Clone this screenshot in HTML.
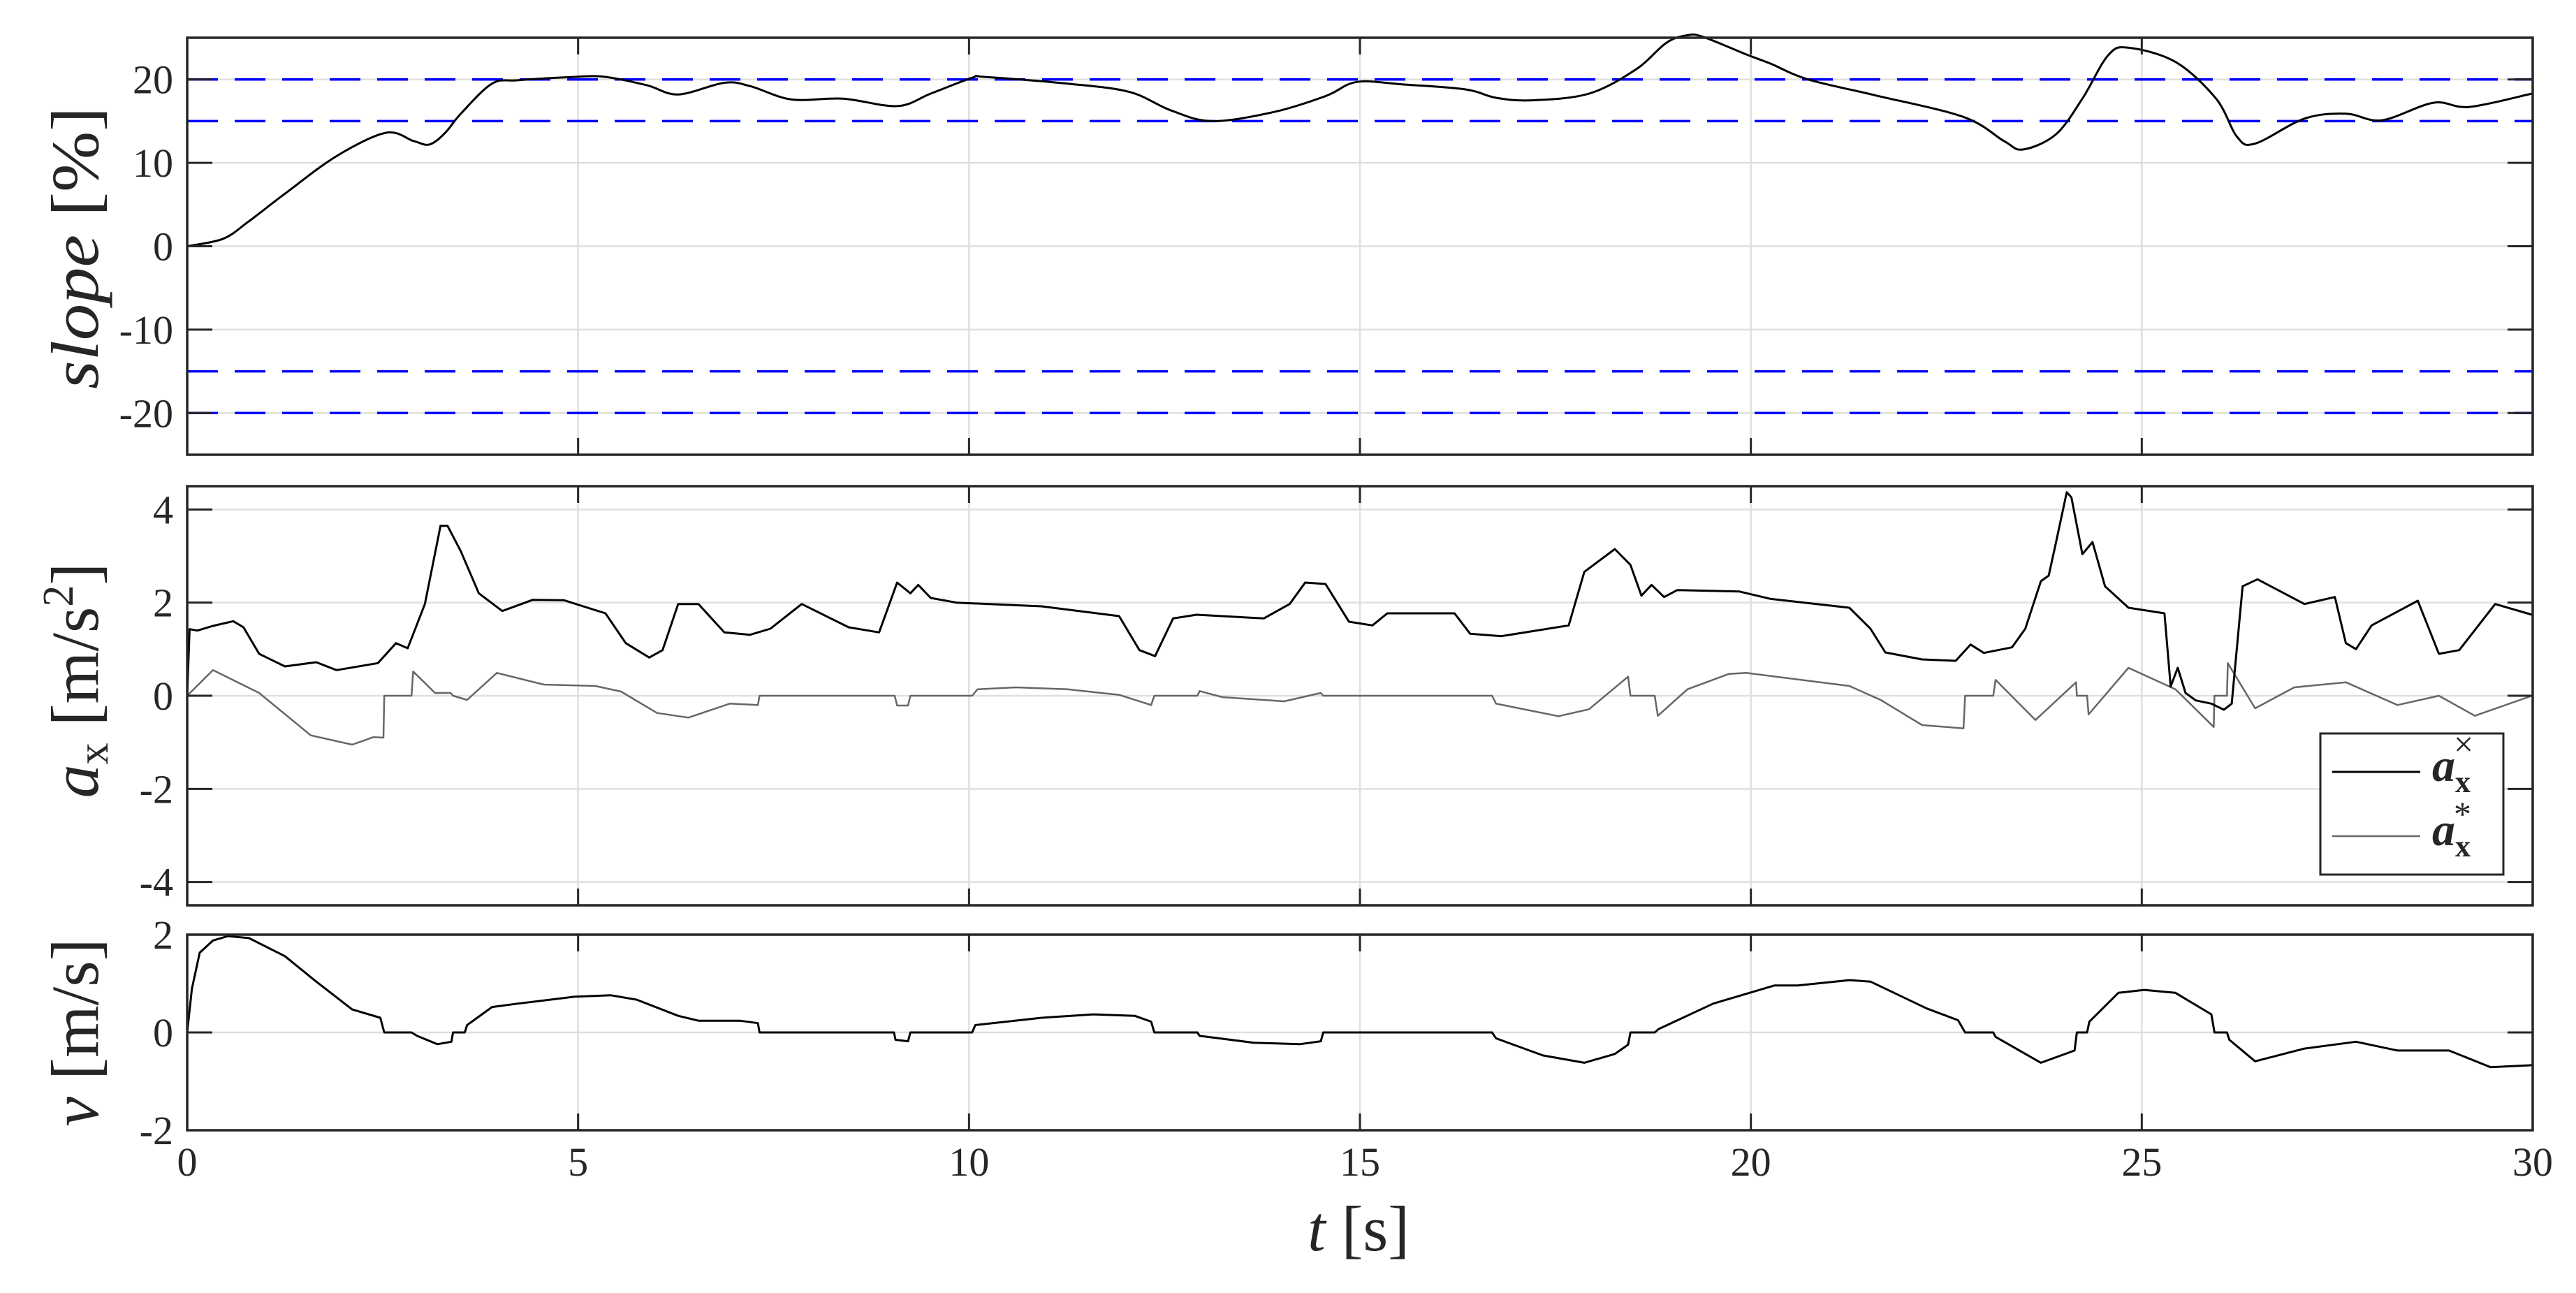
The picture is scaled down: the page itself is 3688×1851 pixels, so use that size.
<!DOCTYPE html>
<html><head><meta charset="utf-8"><style>
html,body{margin:0;padding:0;background:#fff;}
svg{display:block;}
text{font-family:"Liberation Serif",serif;fill:#262626;}
</style></head><body>
<svg id="fig" width="3688" height="1851" viewBox="0 0 3688 1851" xmlns="http://www.w3.org/2000/svg">
<rect width="3688" height="1851" fill="#fff"/>
<g id="grid"></g><g id="refs"></g><g id="series"></g><g id="frames"></g><g id="labels"></g>
<text transform="translate(140,355) rotate(-90)" text-anchor="middle" font-size="96" textLength="404" lengthAdjust="spacingAndGlyphs"><tspan font-style="italic">slope</tspan> [%]</text>
<text transform="translate(140,974) rotate(-90)" text-anchor="middle" font-size="96"><tspan font-style="italic">a</tspan><tspan font-size="62" dy="14">x</tspan><tspan dy="-14"> [m/s</tspan><tspan font-size="62" dy="-36">2</tspan><tspan dy="36">]</tspan></text>
<text transform="translate(140,1478) rotate(-90)" text-anchor="middle" font-size="96"><tspan font-style="italic">v</tspan> [m/s]</text>
<text x="1945" y="1790" text-anchor="middle" font-size="92"><tspan font-style="italic">t</tspan> [s]</text>
<g>
<rect x="3322" y="1050" width="262" height="202" fill="#fff" stroke="#262626" stroke-width="3"/>
<line x1="3339" y1="1105" x2="3465" y2="1105" stroke="#000" stroke-width="3"/>
<line x1="3339" y1="1197" x2="3465" y2="1197" stroke="#666" stroke-width="2.5"/>
<text x="3482" y="1118" font-size="66"><tspan font-style="italic" font-weight="bold">a</tspan><tspan font-size="44" font-weight="bold" dy="16">x</tspan><tspan font-size="50" dx="-24" dy="-52">×</tspan></text>
<text x="3482" y="1210" font-size="66"><tspan font-style="italic" font-weight="bold">a</tspan><tspan font-size="44" font-weight="bold" dy="16">x</tspan><tspan font-size="50" dx="-24" dy="-44">*</tspan></text>
</g>
</svg>
<script>
const xTicks=[0,5,10,15,20,25,30];
const slopeTicks=[-20,-10,0,10,20];
const axTicks=[-4,-2,0,2,4];
const vTicks=[-2,0,2];
const slopeLimits=[15,20,-15,-20];

const slopeT=[0,0.46,0.79,1.25,1.91,2.54,2.9,3.1,3.3,3.5,3.9,4.23,4.95,5.35,5.88,6.28,6.87,7.2,7.73,8.39,9.08,9.51,10.04,10.2,11.26,12.05,12.58,13.11,13.9,14.56,14.96,15.55,16.35,16.74,17.2,17.93,18.53,18.92,19.19,19.39,19.94,20.25,20.73,21.59,22.72,23.24,23.48,23.9,24.24,24.57,24.83,25.43,25.95,26.22,26.45,27.08,27.61,28.07,28.73,29.19,29.99];
const slopeV=[0,0.9,3.0,6.3,10.8,13.6,12.6,12.2,13.6,15.9,19.5,19.9,20.3,20.3,19.3,18.2,19.6,19.2,17.6,17.7,16.8,18.3,20.2,20.3,19.5,18.5,16.3,15.0,16.1,18.0,19.7,19.4,18.8,17.8,17.5,18.3,21.2,24.4,25.3,25.1,23.0,21.9,20.0,18.1,15.5,12.6,11.6,13.4,17.7,22.9,23.8,22.1,17.7,13.1,12.3,15.3,15.9,15.1,17.2,16.7,18.3];

const axT=[0,0.03,0.13,0.33,0.59,0.72,0.92,1.25,1.65,1.91,2.44,2.67,2.82,3.04,3.24,3.33,3.5,3.73,4.03,4.42,4.82,5.35,5.61,5.91,6.08,6.28,6.54,6.87,7.2,7.46,7.86,8.46,8.85,9.08,9.25,9.35,9.51,9.84,10.93,11.92,12.18,12.38,12.61,12.91,13.77,14.1,14.3,14.56,14.86,15.16,15.35,16.21,16.41,16.81,17.67,17.87,18.26,18.46,18.6,18.73,18.89,19.06,19.85,20.25,21.26,21.53,21.72,22.19,22.62,22.81,22.98,23.34,23.51,23.71,23.81,23.9,24.04,24.1,24.24,24.37,24.53,24.83,25.29,25.37,25.46,25.56,25.69,25.89,26.05,26.15,26.29,26.48,27.08,27.47,27.61,27.74,27.94,28.53,28.8,29.06,29.52,29.99];
const axV=[0,1.43,1.4,1.5,1.6,1.47,0.9,0.63,0.72,0.55,0.7,1.13,1.02,1.97,3.65,3.65,3.1,2.2,1.82,2.06,2.05,1.77,1.13,0.82,0.98,1.97,1.97,1.36,1.31,1.44,1.97,1.47,1.36,2.43,2.2,2.38,2.1,2.0,1.92,1.71,0.98,0.85,1.66,1.74,1.66,1.97,2.43,2.4,1.59,1.51,1.77,1.77,1.33,1.28,1.51,2.66,3.15,2.81,2.15,2.38,2.12,2.27,2.24,2.08,1.89,1.44,0.93,0.78,0.75,1.1,0.92,1.04,1.44,2.46,2.58,3.27,4.37,4.26,3.04,3.3,2.35,1.89,1.77,0.2,0.6,0.06,-0.1,-0.17,-0.3,-0.17,2.35,2.5,1.97,2.12,1.13,1.0,1.51,2.04,0.9,0.98,1.97,1.74];

const refT=[0,0.33,0.92,1.58,2.11,2.38,2.51,2.52,2.87,2.89,3.17,3.37,3.4,3.58,3.96,4.56,5.22,5.55,6.01,6.41,6.94,7.3,7.32,9.05,9.08,9.22,9.25,10.04,10.11,10.6,11.26,11.92,12.33,12.37,12.92,12.95,13.24,14.03,14.5,14.53,16.69,16.74,17.54,17.93,18.43,18.46,18.77,18.81,19.19,19.72,19.94,21.26,21.66,22.19,22.72,22.74,23.1,23.13,23.64,24.16,24.17,24.3,24.32,24.83,25.43,25.92,25.93,26.09,26.1,26.45,26.95,27.61,28.27,28.8,29.26,29.99];
const refV=[0,0.55,0.06,-0.85,-1.05,-0.89,-0.9,0,0,0.52,0.06,0.06,0,-0.09,0.49,0.24,0.21,0.09,-0.37,-0.47,-0.17,-0.2,0,0,-0.21,-0.21,0,0,0.14,0.18,0.14,0.02,-0.2,0,0,0.1,-0.03,-0.12,0.06,0,0,-0.17,-0.44,-0.29,0.41,0,0,-0.43,0.14,0.47,0.49,0.21,-0.09,-0.63,-0.7,0,0,0.34,-0.52,0.29,0,0,-0.4,0.6,0.14,-0.67,0,0,0.7,-0.27,0.18,0.29,-0.2,0,-0.43,0];

const vT=[0,0.06,0.16,0.33,0.52,0.79,1.25,1.65,2.11,2.47,2.52,2.87,2.94,3.2,3.38,3.4,3.55,3.58,3.9,4.23,4.95,5.42,5.75,6.28,6.54,7.07,7.3,7.32,9.04,9.06,9.22,9.25,10.04,10.08,10.93,11.59,12.12,12.33,12.37,12.92,12.95,13.64,14.23,14.5,14.53,16.69,16.74,17.34,17.87,18.26,18.43,18.46,18.77,18.82,19.52,20.3,20.6,21.26,21.53,22.25,22.65,22.74,23.1,23.13,23.71,24.14,24.17,24.3,24.33,24.7,25.03,25.43,25.89,25.93,26.09,26.12,26.45,27.08,27.74,28.27,28.93,29.46,29.99];
const vV=[0,0.89,1.63,1.88,1.97,1.93,1.56,1.04,0.47,0.3,0,0,-0.07,-0.24,-0.19,0,0,0.15,0.52,0.59,0.73,0.76,0.67,0.34,0.24,0.24,0.19,0,0,-0.15,-0.18,0,0,0.15,0.3,0.37,0.34,0.22,0,0,-0.07,-0.21,-0.24,-0.18,0,0,-0.12,-0.47,-0.62,-0.44,-0.25,0,0,0.07,0.59,0.96,0.96,1.07,1.04,0.49,0.25,0,0,-0.09,-0.62,-0.37,0,0,0.22,0.81,0.87,0.81,0.37,0,0,-0.15,-0.59,-0.33,-0.19,-0.37,-0.37,-0.71,-0.67];

const NS='http://www.w3.org/2000/svg';
const X0=268,X1=3626;
function xs(t){return X0+(t-0)/(30-0)*(X1-X0);}
function mkY(top,bot,lo,hi){return v=>bot-(v-lo)/(hi-lo)*(bot-top);}
const panels=[
 {name:'slope',top:54,bot:651,lo:-25,hi:25,ticks:slopeTicks},
 {name:'ax',top:696,bot:1296,lo:-4.5,hi:4.5,ticks:axTicks},
 {name:'v',top:1338,bot:1618,lo:-2,hi:2,ticks:vTicks}
];
panels.forEach(p=>p.y=mkY(p.top,p.bot,p.lo,p.hi));
function el(tag,attrs,parent){const e=document.createElementNS(NS,tag);for(const k in attrs)e.setAttribute(k,attrs[k]);parent.appendChild(e);return e;}
const G=document.getElementById('grid'),R=document.getElementById('refs'),S=document.getElementById('series'),F=document.getElementById('frames'),L=document.getElementById('labels');
panels.forEach(p=>{
  xTicks.forEach(t=>{
    if(t>0&&t<30){
      const g=el('line',{x1:xs(t),x2:xs(t),y1:p.top,y2:p.bot,stroke:'#dfdfdf','stroke-width':2.5},G);
      
      
    }
    const a=el('line',{x1:xs(t),x2:xs(t),y1:p.bot,y2:p.bot-24,stroke:'#262626','stroke-width':3},F);
    
    
    const b=el('line',{x1:xs(t),x2:xs(t),y1:p.top,y2:p.top+24,stroke:'#262626','stroke-width':3},F);
    
    
  });
  p.ticks.forEach(v=>{
    const yy=p.y(v);
    const g=el('line',{x1:X0,x2:X1,y1:yy,y2:yy,stroke:'#dfdfdf','stroke-width':2.5},G);
    
    
    const a=el('line',{x1:X0,x2:X0+36,y1:yy,y2:yy,stroke:'#262626','stroke-width':3},F);
    
    
    const b=el('line',{x1:X1-36,x2:X1,y1:yy,y2:yy,stroke:'#262626','stroke-width':3},F);
    
    
    const tx=el('text',{x:248,y:yy+20,'text-anchor':'end','font-size':58},L);
    tx.textContent=String(v);
    
    
  });
  const fr=el('rect',{x:X0,y:p.top,width:X1-X0,height:p.bot-p.top,fill:'none',stroke:'#262626','stroke-width':3.5},F);
  
  
});
xTicks.forEach(t=>{
  const tx=el('text',{x:xs(t),y:1683,'text-anchor':'middle','font-size':58},L);
  tx.textContent=String(t);
  
  
});
const P0=panels[0];
slopeLimits.forEach(v=>{
  const ln=el('line',{x1:X0,x2:X1,y1:P0.y(v),y2:P0.y(v),stroke:'#0000ff','stroke-width':3.5,'stroke-dasharray':'44 24'},R);
  
  
});
function path(T,V,p,stroke,w,name){
  let d='';
  for(let i=0;i<T.length;i++){d+=(i?'L':'M')+xs(T[i]).toFixed(1)+','+p.y(V[i]).toFixed(1);}
  const e=el('path',{d:d,fill:'none',stroke:stroke,'stroke-width':w,'stroke-linejoin':'round'},S);
  
  
}
function smoothPath(T,V,p,stroke,w,name){
  const pts=T.map((t,i)=>[xs(t),p.y(V[i])]);
  let d='M'+pts[0][0].toFixed(1)+','+pts[0][1].toFixed(1);
  for(let i=0;i<pts.length-1;i++){
    const p0=pts[Math.max(0,i-1)],p1=pts[i],p2=pts[i+1],p3=pts[Math.min(pts.length-1,i+2)];
    const c1=[p1[0]+(p2[0]-p0[0])/6,p1[1]+(p2[1]-p0[1])/6];
    const c2=[p2[0]-(p3[0]-p1[0])/6,p2[1]-(p3[1]-p1[1])/6];
    d+='C'+c1[0].toFixed(1)+','+c1[1].toFixed(1)+' '+c2[0].toFixed(1)+','+c2[1].toFixed(1)+' '+p2[0].toFixed(1)+','+p2[1].toFixed(1);
  }
  const e=el('path',{d:d,fill:'none',stroke:stroke,'stroke-width':w,'stroke-linejoin':'round'},S);
  
  
}
smoothPath(slopeT,slopeV,panels[0],'#000',3,'slope-line');
path(refT,refV,panels[1],'#666',2.5,'ax-reference-line');
path(axT,axV,panels[1],'#000',3,'ax-measured-line');
path(vT,vV,panels[2],'#000',3,'v-line');
</script>
</body></html>
